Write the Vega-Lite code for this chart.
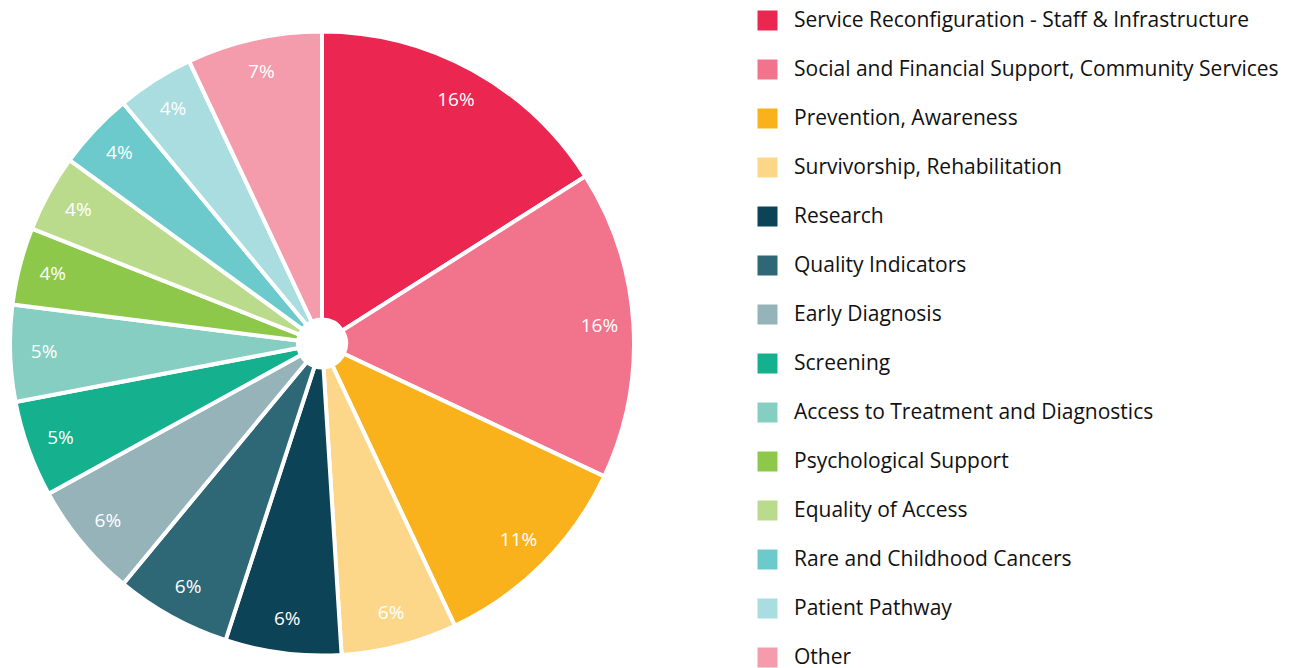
{
  "$schema": "https://vega.github.io/schema/vega-lite/v6.json",
  "width": 644,
  "height": 687,
  "padding": 0,
  "autosize": {"type": "pad"},
  "background": "white",
  "data": {
    "values": [
      {"category": "Service Reconfiguration - Staff & Infrastructure", "value": 16, "order": 1, "label": "16%"},
      {"category": "Social and Financial Support, Community Services", "value": 16, "order": 2, "label": "16%"},
      {"category": "Prevention, Awareness", "value": 11, "order": 3, "label": "11%"},
      {"category": "Survivorship, Rehabilitation", "value": 6, "order": 4, "label": "6%"},
      {"category": "Research", "value": 6, "order": 5, "label": "6%"},
      {"category": "Quality Indicators", "value": 6, "order": 6, "label": "6%"},
      {"category": "Early Diagnosis", "value": 6, "order": 7, "label": "6%"},
      {"category": "Screening", "value": 5, "order": 8, "label": "5%"},
      {"category": "Access to Treatment and Diagnostics", "value": 5, "order": 9, "label": "5%"},
      {"category": "Psychological Support", "value": 4, "order": 10, "label": "4%"},
      {"category": "Equality of Access", "value": 4, "order": 11, "label": "4%"},
      {"category": "Rare and Childhood Cancers", "value": 4, "order": 12, "label": "4%"},
      {"category": "Patient Pathway", "value": 4, "order": 13, "label": "4%"},
      {"category": "Other", "value": 7, "order": 14, "label": "7%"}
    ]
  },
  "encoding": {
    "theta": {"field": "value", "type": "quantitative", "stack": true},
    "order": {"field": "order", "type": "quantitative", "sort": "ascending"},
    "color": {
      "field": "category",
      "type": "nominal",
      "scale": {
        "domain": [
          "Service Reconfiguration - Staff & Infrastructure",
          "Social and Financial Support, Community Services",
          "Prevention, Awareness",
          "Survivorship, Rehabilitation",
          "Research",
          "Quality Indicators",
          "Early Diagnosis",
          "Screening",
          "Access to Treatment and Diagnostics",
          "Psychological Support",
          "Equality of Access",
          "Rare and Childhood Cancers",
          "Patient Pathway",
          "Other"
        ],
        "range": ["#EB2650", "#F2738C", "#F9B21B", "#FCD78A", "#0D4356", "#2E6876", "#97B3BA", "#15B08E", "#86CEC2", "#8DC84A", "#BBDB8C", "#6CCACC", "#A9DDE0", "#F49CAC"]
      },
      "legend": {
        "title": null,
        "orient": "none",
        "legendX": 757,
        "legendY": 10,
        "symbolType": "square",
        "symbolSize": 400,
        "symbolStrokeWidth": 0,
        "labelFont": "Open Sans",
        "labelFontSize": 21,
        "labelColor": "#111111",
        "labelOffset": 16,
        "labelLimit": 600,
        "rowPadding": 27
      }
    }
  },
  "layer": [
    {
      "mark": {"type": "arc", "outerRadius": 312, "innerRadius": 24, "stroke": "white", "strokeWidth": 4}
    },
    {
      "mark": {"type": "text", "radius": 278, "fill": "white", "font": "Open Sans", "fontSize": 19},
      "encoding": {
        "text": {"field": "label", "type": "nominal"},
        "color": {"value": "white"}
      }
    }
  ]
}
